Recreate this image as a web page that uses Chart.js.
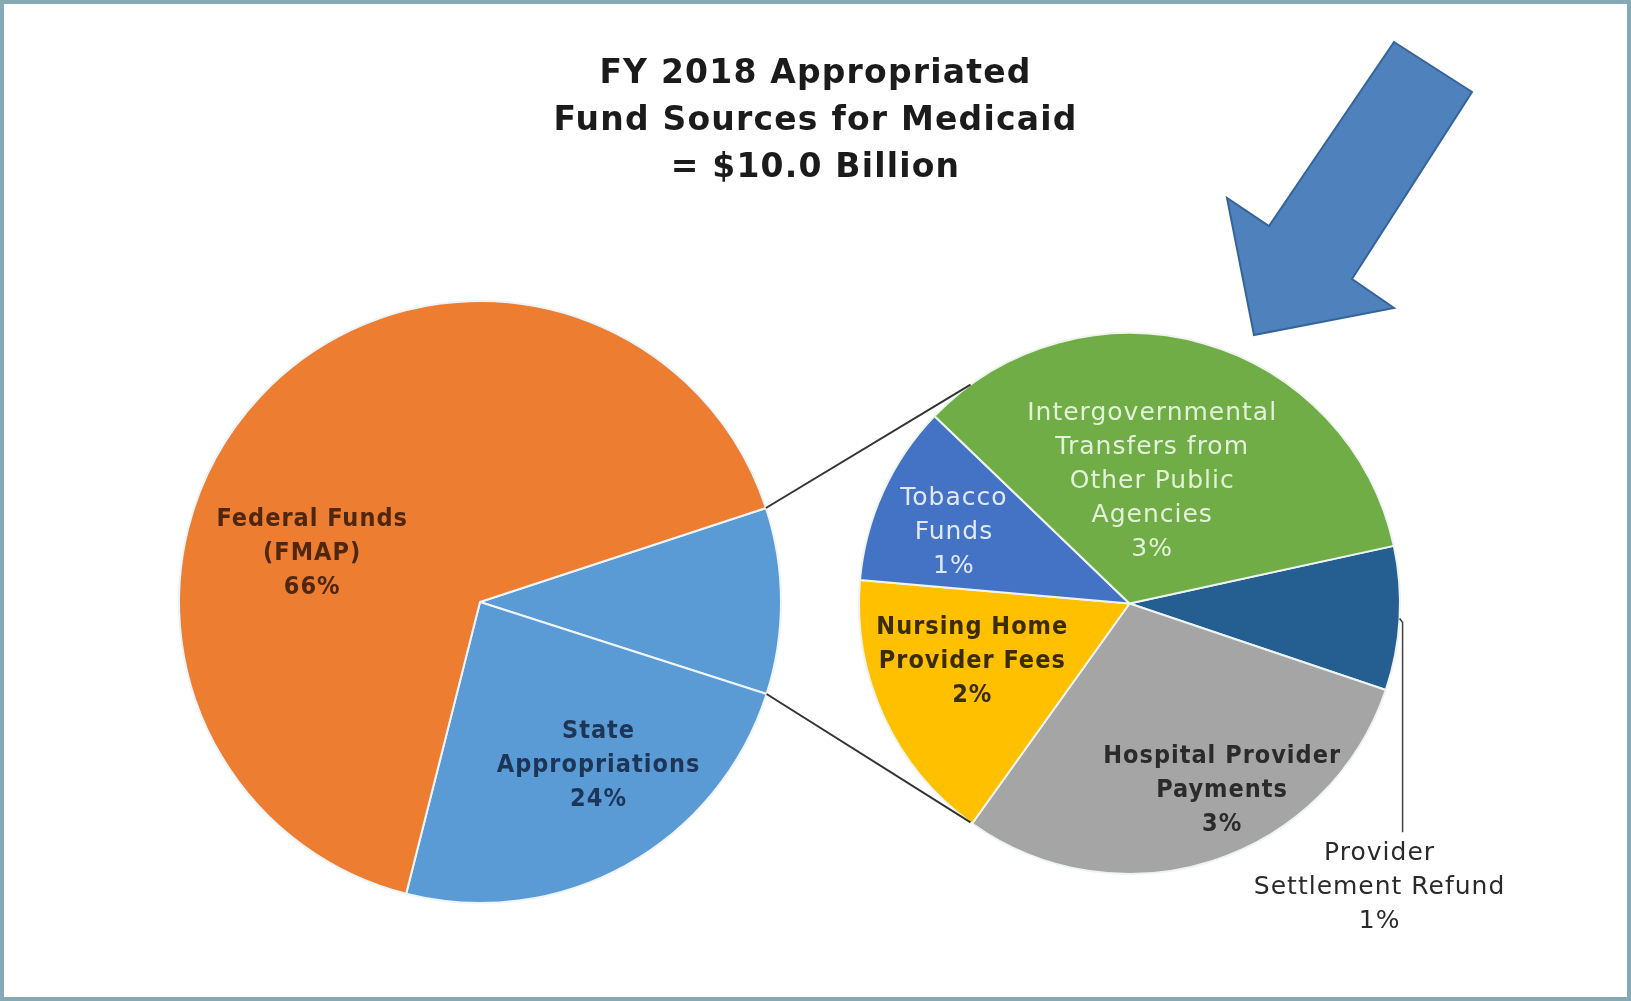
<!DOCTYPE html>
<html>
<head>
<meta charset="utf-8">
<script src="https://cdn.jsdelivr.net/npm/chart.js@4.4.1/dist/chart.umd.min.js"></script>
<style>
  html, body { margin: 0; padding: 0; background: #fff; }
  body { width: 1631px; height: 1001px; position: relative; overflow: hidden; }
  canvas { position: absolute; left: 0; top: 0; }
  #frame { position: absolute; left: 0; top: 0; width: 1631px; height: 1001px; box-sizing: border-box;
    border: 4px solid #86a9b8; pointer-events: none; z-index: 5; }
  #title { position: absolute; left: 0; width: 1631px; top: 48px; text-align: center; z-index: 4;
    font: bold 33px 'DejaVu Sans', sans-serif; letter-spacing: 1.2px; line-height: 47px; color: #1b1b1b; }
</style>
</head>
<body>
<div id="title">FY 2018 Appropriated<br>Fund Sources for Medicaid<br>= $10.0 Billion</div>
<canvas id="mainPie" width="1631" height="1001"></canvas>
<canvas id="detailPie" width="1631" height="1001"></canvas>
<div id="frame"></div>
<script>
// left pie: first slice is the "other" part that gets broken out on the right
const mainLabels = [['Other'], ['State', 'Appropriations'], ['Federal Funds', '(FMAP)']];
const mainValues = [10, 24, 66];
const mainPct = ['', '24%', '66%'];

// right pie, clockwise from the dark blue slice
const detailLabels = [
  ['Provider', 'Settlement Refund'],
  ['Hospital Provider', 'Payments'],
  ['Nursing Home', 'Provider Fees'],
  ['Tobacco', 'Funds'],
  ['Intergovernmental', 'Transfers from', 'Other Public', 'Agencies']
];
const detailValues = [0.86, 2.97, 1.65, 1.08, 3.44];
const detailPct = ['1%', '3%', '2%', '1%', '3%'];

const mainColors = ['#5b9bd5', '#5b9bd5', '#ed7d31'];
const detailColors = ['#255e91', '#a5a5a5', '#ffc000', '#4472c4', '#70ad47'];

const rad = d => d * Math.PI / 180;

// text inside / beside slices, placed by angle + fraction of radius from the pie centre
const sliceLabels = {
  id: 'sliceLabels',
  afterDatasetsDraw(chart, args, opts) {
    const ctx = chart.ctx;
    const meta = chart.getDatasetMeta(0);
    ctx.save();
    ctx.textAlign = 'center';
    ctx.textBaseline = 'middle';
    meta.data.forEach((arc, i) => {
      const p = opts.place[i];
      if (!p) return;
      const lines = chart.data.labels[i].concat([opts.pct[i]]);
      let cx, cy;
      if (p.leader) {
        const mid = (arc.startAngle + arc.endAngle) / 2;
        const ax = arc.x + arc.outerRadius * Math.cos(mid);
        const ay = arc.y + arc.outerRadius * Math.sin(mid);
        const ey = ay + arc.outerRadius * p.leader;
        ctx.strokeStyle = '#404040';
        ctx.lineWidth = 1.5;
        ctx.beginPath();
        ctx.moveTo(ax, ay);
        ctx.lineTo(ax + 3, ay + 4);
        ctx.lineTo(ax + 3, ey);
        ctx.stroke();
        cx = ax + p.dx;
        cy = ey + 21 + (lines.length - 1) / 2 * p.lh;
      } else {
        cx = arc.x + arc.outerRadius * p.rf * Math.cos(rad(p.ang));
        cy = arc.y + arc.outerRadius * p.rf * Math.sin(rad(p.ang));
      }
      ctx.fillStyle = p.color;
      ctx.font = p.weight + ' ' + p.size + 'px ' + p.family;
      ctx.letterSpacing = '1px';
      lines.forEach((t, k) => {
        ctx.fillText(t, cx, cy + (k - (lines.length - 1) / 2) * p.lh);
      });
    });
    ctx.restore();
  }
};

const boldFace = '"DejaVu Sans Condensed", "DejaVu Sans", sans-serif';
const plainFace = '"DejaVu Sans", sans-serif';

const mainChart = new Chart(document.getElementById('mainPie'), {
  type: 'pie',
  data: {
    labels: mainLabels,
    datasets: [{ data: mainValues, backgroundColor: mainColors, borderColor: '#eef4fa', borderWidth: 2 }]
  },
  options: {
    responsive: false,
    animation: false,
    events: [],
    rotation: 71.8,
    layout: { padding: { left: 176, right: 847, top: 300, bottom: 97 } },
    plugins: {
      legend: { display: false },
      tooltip: { enabled: false },
      sliceLabels: {
        pct: mainPct,
        place: [
          null,
          { ang: 54, rf: 0.67, color: '#1d3557', weight: 'bold', size: 25, lh: 34, family: boldFace },
          { ang: 196, rf: 0.58, color: '#4f2610', weight: 'bold', size: 25, lh: 34, family: boldFace }
        ]
      }
    }
  },
  plugins: [sliceLabels]
});

// connector lines between the pies and the callout arrow
const extras = {
  id: 'extras',
  afterDraw(chart, args, opts) {
    const ctx = chart.ctx;
    const src = mainChart.getDatasetMeta(0).data[0];
    const dst = chart.getDatasetMeta(0).data[0];
    const pt = (a, ang) => [a.x + a.outerRadius * Math.cos(ang), a.y + a.outerRadius * Math.sin(ang)];
    const s1 = pt(src, src.startAngle), s2 = pt(src, src.endAngle);
    const d1 = pt(dst, rad(180 + opts.spread)), d2 = pt(dst, rad(180 - opts.spread));
    ctx.save();
    ctx.strokeStyle = '#333';
    ctx.lineWidth = 2;
    ctx.beginPath();
    ctx.moveTo(s1[0], s1[1]); ctx.lineTo(d1[0], d1[1]);
    ctx.moveTo(s2[0], s2[1]); ctx.lineTo(d2[0], d2[1]);
    ctx.stroke();

    ctx.fillStyle = '#4f81bd';
    ctx.strokeStyle = '#35649a';
    ctx.lineWidth = 2;
    ctx.beginPath();
    opts.arrow.forEach((p, k) => k ? ctx.lineTo(p[0], p[1]) : ctx.moveTo(p[0], p[1]));
    ctx.closePath();
    ctx.fill();
    ctx.stroke();
    ctx.restore();
  }
};

new Chart(document.getElementById('detailPie'), {
  type: 'pie',
  data: {
    labels: detailLabels,
    datasets: [{ data: detailValues, backgroundColor: detailColors, borderColor: '#eef4f0', borderWidth: 2 }]
  },
  options: {
    responsive: false,
    animation: false,
    events: [],
    rotation: 77.7,
    layout: { padding: { left: 854, right: 226, top: 332, bottom: 126 } },
    plugins: {
      legend: { display: false },
      tooltip: { enabled: false },
      sliceLabels: {
        pct: detailPct,
        place: [
          { leader: 0.79, dx: -20, color: '#2a2a2a', weight: 'normal', size: 25, lh: 34, family: plainFace },
          { ang: 63.6, rf: 0.77, color: '#2b2b2b', weight: 'bold', size: 25, lh: 34, family: boldFace },
          { ang: 159.6, rf: 0.62, color: '#3b2c00', weight: 'bold', size: 25, lh: 34, family: boldFace },
          { ang: 202, rf: 0.70, color: '#e2e9f6', weight: 'normal', size: 25, lh: 34, family: plainFace },
          { ang: 280.5, rf: 0.46, color: '#e4f1da', weight: 'normal', size: 25, lh: 34, family: plainFace }
        ]
      },
      extras: {
        spread: 54,
        arrow: [[1254, 335], [1227, 198], [1269, 226], [1394, 42], [1472, 92], [1352, 279], [1394, 308]]
      }
    }
  },
  plugins: [sliceLabels, extras]
});
</script>
</body>
</html>
